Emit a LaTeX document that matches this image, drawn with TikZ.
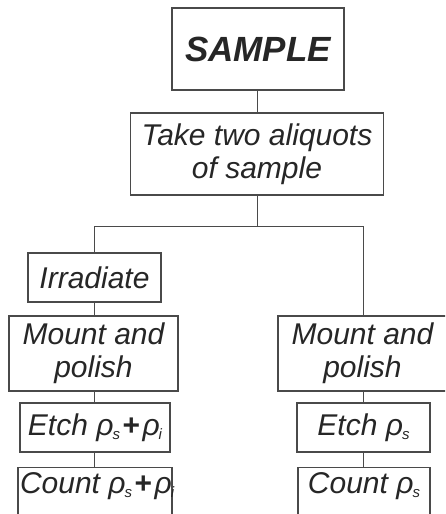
\documentclass[tikz,border=0pt]{standalone}
\usepackage{fontspec}
\setmainfont{Liberation Sans}
\begin{document}
\begin{tikzpicture}[x=1pt,y=-1pt,
  box/.style={draw=linegray,line width=1.1pt,rectangle,inner sep=0pt,align=center,
    font=\fontsize{30}{33}\selectfont\itshape,text=textgray},
  conn/.style={draw=linegray,line width=1pt}]
\definecolor{linegray}{HTML}{4A4A4A}
\definecolor{textgray}{HTML}{262626}
\useasboundingbox (0,0) rectangle (445,514);
\clip (0,0) rectangle (445,514);
\fill[white] (0,0) rectangle (445,514);
\newcommand{\rs}{ρ\kern-1pt\raisebox{-4pt}{\fontsize{15}{15}\selectfont\itshape s}}
\newcommand{\ri}{ρ\kern-1pt\raisebox{-4pt}{\fontsize{15}{15}\selectfont\itshape i}}
\newcommand{\pl}{\kern2.5pt{\upshape\bfseries +}\kern2.5pt}
\node[box,minimum width=172,minimum height=82,font=\fontsize{35}{38}\selectfont\bfseries\itshape] (sample) at (258,49) {SAMPLE};
\node[box,minimum width=253,minimum height=82] (take) at (257,154) {Take two aliquots\\of sample};
\node[box,minimum width=133,minimum height=49] (irr) at (94.5,277.5) {Irradiate};
\node[box,minimum width=169,minimum height=75] (mountL) at (93.5,353.5) {Mount and\\polish};
\node[box,minimum width=150,minimum height=49] (etchL) at (95,427.5) {Etch \rs\pl\ri};
\node[box,minimum width=154,text height=23pt,text depth=30pt,inner ysep=3pt,anchor=north] (countL) at (95,467) {\makebox[150pt][l]{Count \rs\pl\ri}};
\node[box,minimum width=169,minimum height=75] (mountR) at (362.5,353.5) {Mount and\\polish};
\node[box,minimum width=133,minimum height=49] (etchR) at (363.5,427.5) {Etch \rs};
\node[box,minimum width=132,text height=23pt,text depth=30pt,inner ysep=3pt,anchor=north] (countR) at (364,467) {Count \rs};
\coordinate (jc) at (257,226);
\coordinate (jl) at (94,226);
\coordinate (jr) at (363,226);
\draw[conn] (sample.south -| jc) -- (take.north -| jc);
\draw[conn] (take.south -| jc) -- (jc);
\draw[conn] (jl) -- (jr);
\draw[conn] (jl) -- (irr.north -| jl);
\draw[conn] (jr) -- (mountR.north -| jr);
\draw[conn] (irr.south -| jl) -- (mountL.north -| jl);
\draw[conn] (mountL.south -| jl) -- (etchL.north -| jl);
\draw[conn] (etchL.south -| jl) -- (countL.north -| jl);
\draw[conn] (mountR.south -| jr) -- (etchR.north -| jr);
\draw[conn] (etchR.south -| jr) -- (countR.north -| jr);
\end{tikzpicture}
\end{document}
